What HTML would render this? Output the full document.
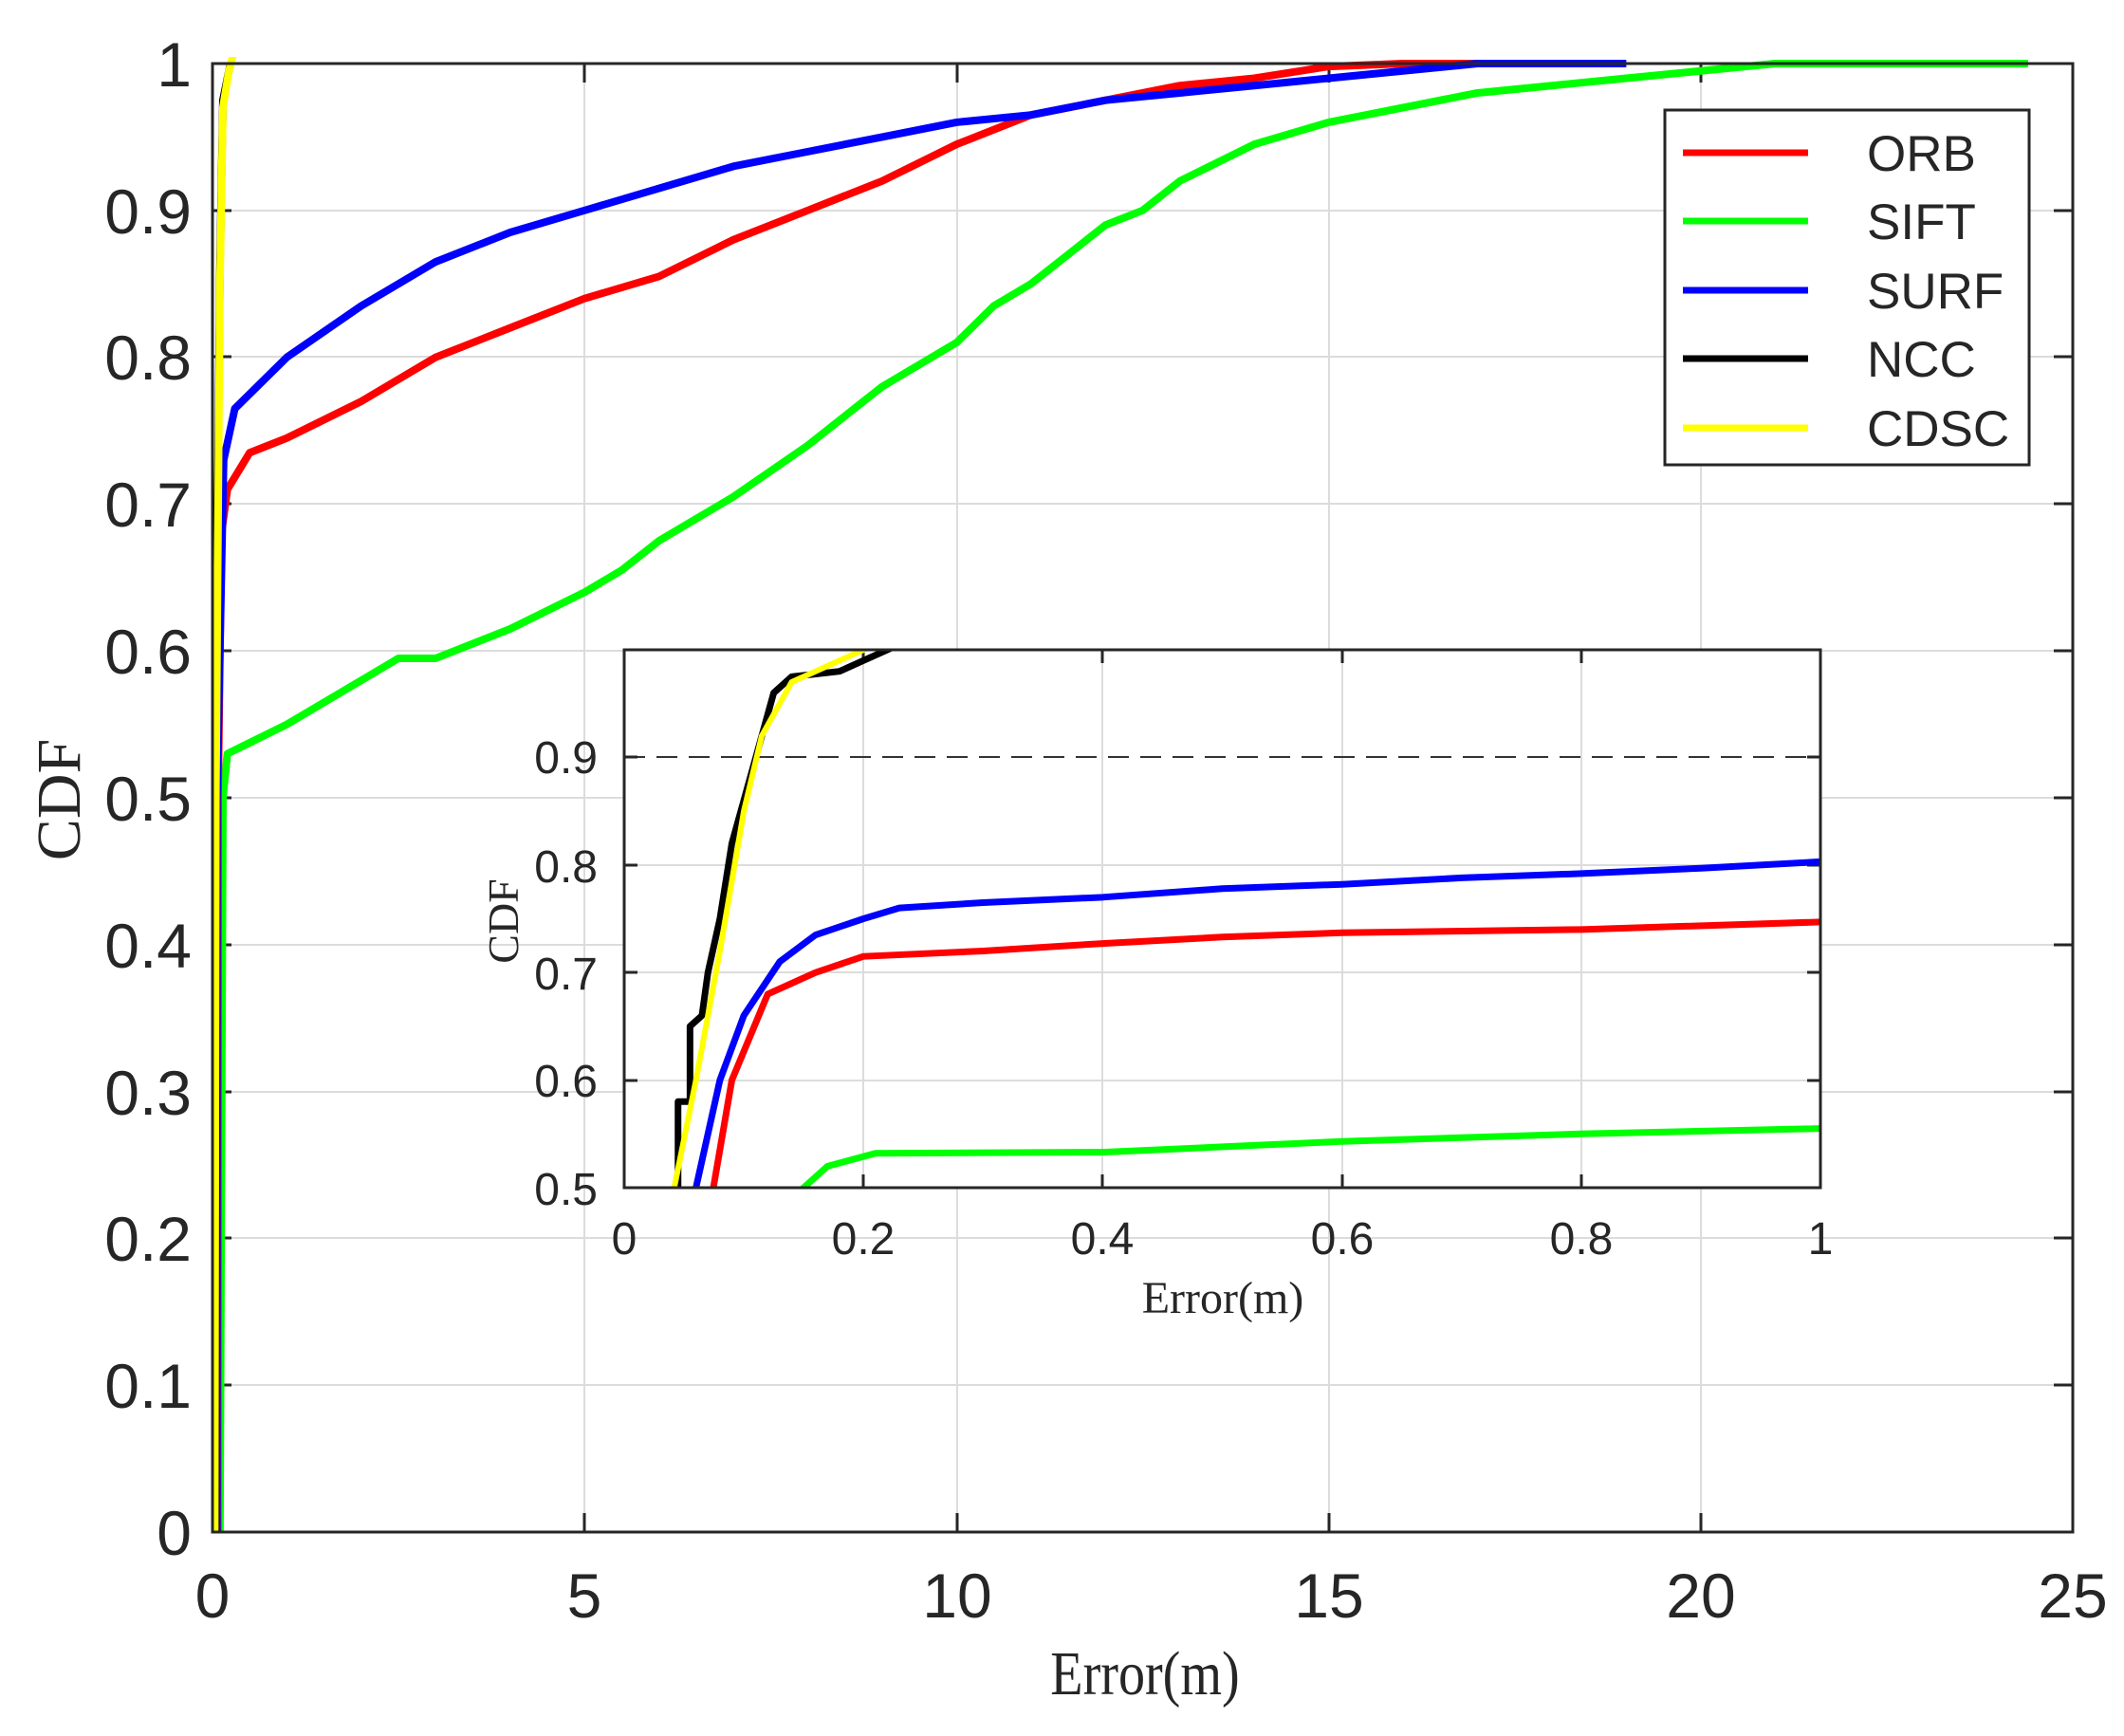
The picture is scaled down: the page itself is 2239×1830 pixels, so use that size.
<!DOCTYPE html>
<html><head><meta charset="utf-8"><style>
html,body{margin:0;padding:0;background:#fff;}
svg{display:block;}
.s{font-family:"Liberation Sans",sans-serif;fill:#262626;}
.r{font-family:"Liberation Serif",serif;fill:#262626;}
</style></head><body>
<svg width="2239" height="1830" viewBox="0 0 2239 1830" xmlns="http://www.w3.org/2000/svg">
<defs>
<clipPath id="cm"><rect x="224" y="60" width="1961" height="1560"/></clipPath>
<clipPath id="ci"><rect x="658" y="685" width="1261" height="567"/></clipPath>
</defs>
<rect width="2239" height="1830" fill="#fff"/>
<g stroke="#dcdcdc" stroke-width="2">
<line x1="616" y1="67" x2="616" y2="1615"/><line x1="1009" y1="67" x2="1009" y2="1615"/>
<line x1="1401" y1="67" x2="1401" y2="1615"/><line x1="1793" y1="67" x2="1793" y2="1615"/>
<line x1="224" y1="222" x2="2185" y2="222"/><line x1="224" y1="376" x2="2185" y2="376"/>
<line x1="224" y1="531" x2="2185" y2="531"/><line x1="224" y1="686" x2="2185" y2="686"/>
<line x1="224" y1="841" x2="2185" y2="841"/><line x1="224" y1="996" x2="2185" y2="996"/>
<line x1="224" y1="1151" x2="2185" y2="1151"/><line x1="224" y1="1305" x2="2185" y2="1305"/>
<line x1="224" y1="1460" x2="2185" y2="1460"/>
</g>
<g stroke="#262626" stroke-width="3">
<path d="M616 1615v-20M1009 1615v-20M1401 1615v-20M1793 1615v-20M616 67v20M1009 67v20M1401 67v20M1793 67v20"/>
<path d="M224 222h20M224 376h20M224 531h20M224 686h20M224 841h20M224 996h20M224 1151h20M224 1305h20M224 1460h20"/>
<path d="M2185 222h-20M2185 376h-20M2185 531h-20M2185 686h-20M2185 841h-20M2185 996h-20M2185 1151h-20M2185 1305h-20M2185 1460h-20"/>
</g>
<g clip-path="url(#cm)">
<g transform="translate(224,1615) scale(78.44,-1548)" fill="none" stroke-linejoin="round">
<polyline vector-effect="non-scaling-stroke" stroke="#00ff00" stroke-width="8" points="0.1,0 0.14,0.5 0.2,0.53 1,0.55 2,0.58 2.5,0.595 3,0.595 4,0.615 5,0.64 5.5,0.655 6,0.675 7,0.705 8,0.74 9,0.78 10,0.81 10.5,0.835 11,0.85 11.5,0.87 12,0.89 12.5,0.9 13,0.92 14,0.945 15,0.96 16,0.97 17,0.98 18,0.985 19,0.99 20,0.995 21,1 24.4,1"/>
<polyline vector-effect="non-scaling-stroke" stroke="#ff0000" stroke-width="8" points="0.07,0 0.075,0.5 0.12,0.68 0.2,0.71 0.5,0.735 1,0.745 2,0.77 3,0.8 4,0.82 5,0.84 6,0.855 7,0.88 8,0.9 9,0.92 10,0.945 11,0.965 12,0.975 13,0.985 14,0.99 15,0.998 16,1 17,1"/>
<polyline vector-effect="non-scaling-stroke" stroke="#0000ff" stroke-width="8" points="0.06,0 0.06,0.5 0.15,0.73 0.3,0.765 1,0.8 2,0.835 3,0.865 4,0.885 5,0.9 6,0.915 7,0.93 8,0.94 9,0.95 10,0.96 11,0.965 12,0.975 13,0.98 14,0.985 15,0.99 16,0.995 17,1 19,1"/>
<polyline vector-effect="non-scaling-stroke" stroke="#000" stroke-width="8" points="0.04,0 0.045,0.5 0.07,0.7 0.1,0.86 0.14,0.975 0.24,1"/>
<polyline vector-effect="non-scaling-stroke" stroke="#ffff00" stroke-width="8" points="0.03,0 0.045,0.5 0.08,0.72 0.1,0.85 0.14,0.97 0.22,0.995 0.3,1.01"/>
</g></g>
<rect x="224" y="67" width="1961" height="1548" fill="none" stroke="#262626" stroke-width="3"/>
<g class="s" font-size="66" text-anchor="end">
<text x="202" y="91">1</text><text x="202" y="246">0.9</text><text x="202" y="400">0.8</text>
<text x="202" y="555">0.7</text><text x="202" y="710">0.6</text><text x="202" y="865">0.5</text>
<text x="202" y="1020">0.4</text><text x="202" y="1175">0.3</text><text x="202" y="1329">0.2</text>
<text x="202" y="1484">0.1</text><text x="202" y="1639">0</text>
</g>
<g class="s" font-size="66" text-anchor="middle">
<text x="224" y="1705">0</text><text x="616" y="1705">5</text><text x="1009" y="1705">10</text>
<text x="1401" y="1705">15</text><text x="1793" y="1705">20</text><text x="2185" y="1705">25</text>
</g>
<text class="r" font-size="66" text-anchor="middle" x="1207" y="1786" transform="translate(1207,0) scale(0.85,1) translate(-1207,0)">Error(m)</text>
<text class="r" font-size="66" text-anchor="middle" transform="translate(84,843) rotate(-90)">CDF</text>
<rect x="1755" y="116" width="384" height="374" fill="#fff" stroke="#262626" stroke-width="3"/>
<g stroke-width="7">
<line x1="1774" y1="161" x2="1906" y2="161" stroke="#ff0000"/>
<line x1="1774" y1="233" x2="1906" y2="233" stroke="#00ff00"/>
<line x1="1774" y1="306" x2="1906" y2="306" stroke="#0000ff"/>
<line x1="1774" y1="378" x2="1906" y2="378" stroke="#000"/>
<line x1="1774" y1="451" x2="1906" y2="451" stroke="#ffff00"/>
</g>
<g class="s" font-size="53">
<text x="1968" y="180">ORB</text><text x="1968" y="252">SIFT</text><text x="1968" y="325">SURF</text>
<text x="1968" y="397">NCC</text><text x="1968" y="470">CDSC</text>
</g>
<rect x="658" y="685" width="1261" height="567" fill="#fff"/>
<g stroke="#dcdcdc" stroke-width="2">
<line x1="910" y1="685" x2="910" y2="1252"/><line x1="1162" y1="685" x2="1162" y2="1252"/>
<line x1="1415" y1="685" x2="1415" y2="1252"/><line x1="1667" y1="685" x2="1667" y2="1252"/>
<line x1="658" y1="1139" x2="1919" y2="1139"/><line x1="658" y1="1025" x2="1919" y2="1025"/>
<line x1="658" y1="912" x2="1919" y2="912"/>
</g>
<line x1="658" y1="798" x2="1919" y2="798" stroke="#333" stroke-width="2" stroke-dasharray="22,12"/>
<g stroke="#262626" stroke-width="3">
<path d="M910 1252v-14M1162 1252v-14M1415 1252v-14M1667 1252v-14M910 685v14M1162 685v14M1415 685v14M1667 685v14"/>
<path d="M658 1139h14M658 1025h14M658 912h14M658 798h14M1919 1139h-14M1919 1025h-14M1919 912h-14M1919 798h-14"/>
</g>
<g clip-path="url(#ci)">
<g transform="translate(658,1819) scale(1261,-1134)" fill="none" stroke-linejoin="round">
<polyline vector-effect="non-scaling-stroke" stroke="#00ff00" stroke-width="7" points="0.14,0.49 0.17,0.52 0.21,0.532 0.4,0.533 0.5,0.538 0.6,0.543 0.8,0.55 1,0.555"/>
<polyline vector-effect="non-scaling-stroke" stroke="#ff0000" stroke-width="7" points="0.073,0.49 0.09,0.6 0.105,0.64 0.12,0.68 0.16,0.7 0.2,0.715 0.3,0.72 0.4,0.727 0.5,0.733 0.6,0.737 0.8,0.74 1,0.747"/>
<polyline vector-effect="non-scaling-stroke" stroke="#0000ff" stroke-width="7" points="0.058,0.49 0.08,0.6 0.1,0.66 0.13,0.71 0.16,0.735 0.2,0.75 0.23,0.76 0.3,0.765 0.4,0.77 0.5,0.778 0.6,0.782 0.7,0.788 0.8,0.792 0.9,0.797 1,0.803"/>
<polyline vector-effect="non-scaling-stroke" stroke="#000" stroke-width="7" points="0.045,0.49 0.045,0.58 0.055,0.58 0.055,0.65 0.065,0.66 0.07,0.7 0.08,0.75 0.09,0.82 0.1,0.86 0.11,0.9 0.125,0.96 0.14,0.975 0.18,0.98 0.2,0.99 0.24,1.01"/>
<polyline vector-effect="non-scaling-stroke" stroke="#ffff00" stroke-width="6" points="0.04,0.49 0.06,0.6 0.08,0.72 0.1,0.85 0.115,0.92 0.14,0.97 0.17,0.985 0.22,1.01"/>
</g></g>
<rect x="658" y="685" width="1261" height="567" fill="none" stroke="#262626" stroke-width="3"/>
<g class="s" font-size="48" text-anchor="end">
<text x="630" y="815">0.9</text><text x="630" y="930">0.8</text><text x="630" y="1043">0.7</text>
<text x="630" y="1156">0.6</text><text x="630" y="1270">0.5</text>
</g>
<g class="s" font-size="48" text-anchor="middle">
<text x="658" y="1322">0</text><text x="910" y="1322">0.2</text><text x="1162" y="1322">0.4</text>
<text x="1415" y="1322">0.6</text><text x="1667" y="1322">0.8</text><text x="1919" y="1322">1</text>
</g>
<text class="r" font-size="48" text-anchor="middle" x="1289" y="1384">Error(m)</text>
<text class="r" font-size="46" text-anchor="middle" transform="translate(546,971) rotate(-90)">CDF</text>
</svg>
</body></html>
